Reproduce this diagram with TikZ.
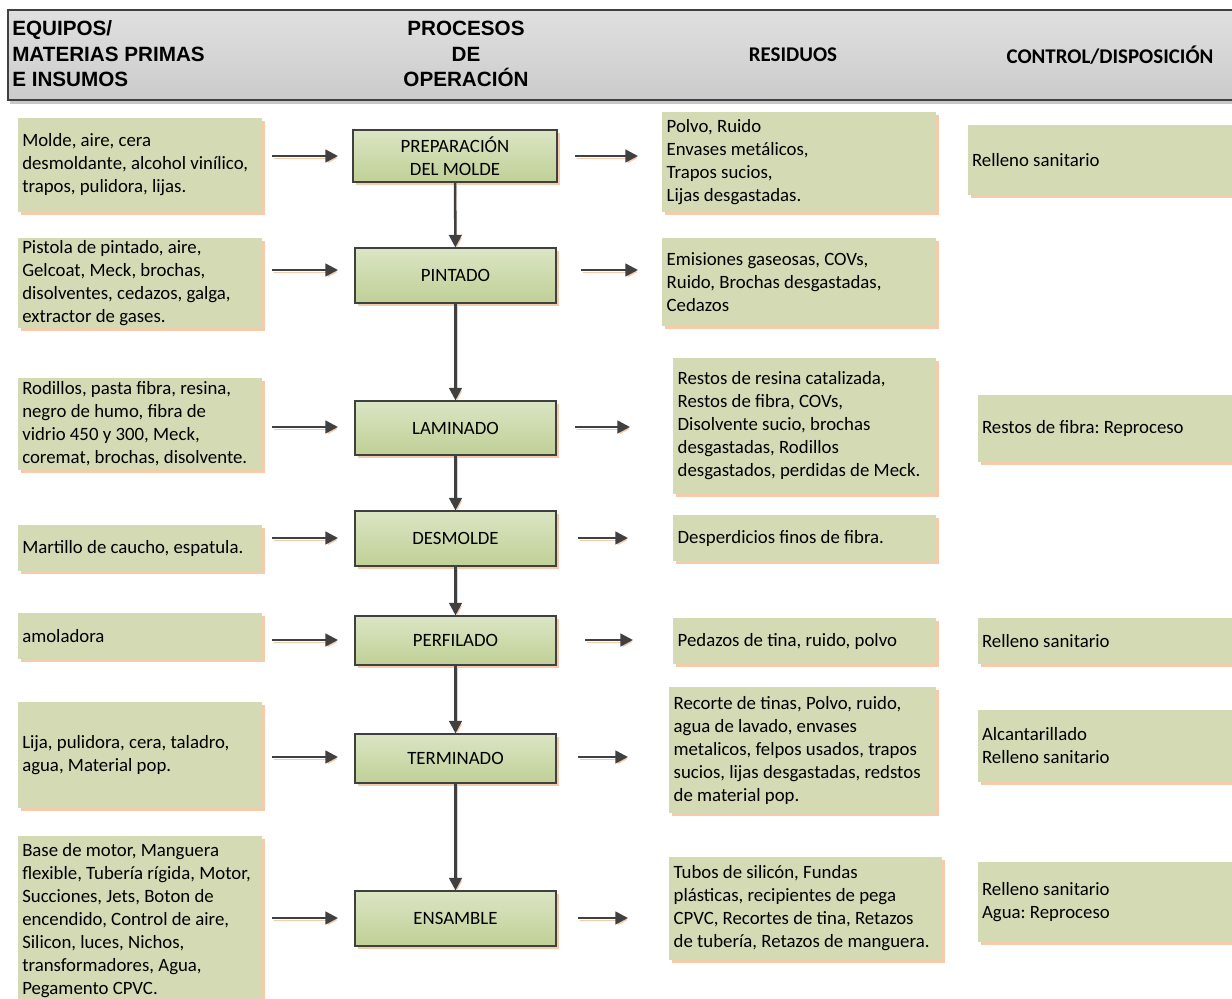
\documentclass[tikz,border=0pt]{standalone}
\usepackage{fontspec}
\setmainfont{Carlito}
\newfontfamily\arialfont{Liberation Sans}
\usetikzlibrary{arrows.meta,shadows}
\frenchspacing

\definecolor{boxgreen}{RGB}{211,218,180}
\definecolor{proctop}{RGB}{219,229,196}
\definecolor{procbot}{RGB}{192,208,150}
\definecolor{peach}{RGB}{244,204,172}
\definecolor{linegray}{RGB}{64,64,64}
\definecolor{hdrtop}{RGB}{224,224,224}
\definecolor{hdrbot}{RGB}{203,203,203}

\tikzset{
  body/.style={font=\fontsize{14.1}{17.25}\selectfont},
  greenbox/.style={rectangle, fill=boxgreen, inner sep=0pt,
    drop shadow={shadow xshift=2.25pt, shadow yshift=-2.25pt, fill=peach, opacity=1}},
  boxtext/.style={body, align=left, anchor=west, inner sep=0pt},
  procbox/.style={body, rectangle, draw=linegray, line width=0.8pt,
    top color=proctop, bottom color=procbot, align=center, inner sep=0pt,
    drop shadow={shadow xshift=2.25pt, shadow yshift=-2.25pt, fill=peach, opacity=1}},
  flow/.style={draw=linegray, line width=1.9pt, -{Triangle[length=9.5pt,width=9.5pt]},
    preaction={draw=peach, transform canvas={xshift=1.2pt, yshift=-1.5pt}}},
  hdrbar/.style={rectangle, draw=linegray, line width=0.8pt, top color=hdrtop, bottom color=hdrbot,
    drop shadow={shadow xshift=1.5pt, shadow yshift=-3pt, fill=black!22, opacity=1}},
  hdrarial/.style={font=\arialfont\bfseries\fontsize{15.5}{19.1}\selectfont, inner sep=0pt},
  hdrcal/.style={font=\bfseries\fontsize{15.7}{19}\selectfont, inner sep=0pt}
}

% box with left-aligned text: name, x1, y1, x2, y2, padding, text
\newcommand\greenbox[7]{%
  \pgfmathsetmacro\bw{(#4-#2)*0.75}%
  \pgfmathsetmacro\bh{(#5-#3)*0.75}%
  \node[greenbox, minimum width=\bw pt, minimum height=\bh pt] (#1) at ({(#2+#4)/2},{(#3+#5)/2}) {};
  \node[boxtext] (#1t) at ([xshift=#6]#1.west) {#7};}

% process box: name, x1, y1, x2, y2, text
\newcommand\procstep[6]{%
  \pgfmathsetmacro\bw{(#4-#2)*0.75}%
  \pgfmathsetmacro\bh{(#5-#3)*0.75}%
  \node[procbox, minimum width=\bw pt, minimum height=\bh pt] (#1) at ({(#2+#4)/2},{(#3+#5)/2}) {#6};}

\begin{document}
\begin{tikzpicture}[x=0.75pt, y=-0.75pt]
\useasboundingbox[fill=white] (0,0) rectangle (1232,999);

% column headings
\node[hdrbar, minimum width=924pt, minimum height=67.5pt] (hdr) at (624,55) {};
\node[hdrarial, align=left, anchor=west] (hin) at (12,54) {EQUIPOS/\\MATERIAS PRIMAS\\E INSUMOS};
\node[hdrarial, align=center] (hproc) at (466,54) {PROCESOS\\DE\\OPERACIÓN};
\node[hdrcal] (hres) at (793,55) {RESIDUOS};
\node[hdrcal] (hctl) at (1110,55) {CONTROL/DISPOSICIÓN};

% inputs
\greenbox{in1}{18}{118}{262}{212}{3.2pt}{Molde, aire, cera\\desmoldante, alcohol vinílico,\\trapos, pulidora, lijas.}
\greenbox{in2}{18}{238}{262}{328}{3.2pt}{Pistola de pintado, aire,\\Gelcoat, Meck, brochas,\\disolventes, cedazos, galga,\\extractor de gases.}
\greenbox{in3}{18}{378}{262}{470}{3.2pt}{Rodillos, pasta fibra, resina,\\negro de humo, fibra de\\vidrio 450 y 300, Meck,\\coremat, brochas, disolvente.}
\greenbox{in4}{18}{525}{262}{571}{3.2pt}{Martillo de caucho, espatula.}
\greenbox{in5}{18}{613}{262}{659}{3.2pt}{amoladora}
\greenbox{in6}{18}{702}{262}{808}{3.2pt}{Lija, pulidora, cera, taladro,\\agua, Material pop.}
\greenbox{in7}{18}{836}{262}{1006}{3.2pt}{Base de motor, Manguera\\flexible, Tubería rígida, Motor,\\Succiones, Jets, Boton de\\encendido, Control de aire,\\Silicon, luces, Nichos,\\transformadores, Agua,\\Pegamento CPVC.}

% process steps
\procstep{p1}{353}{130}{557}{182}{PREPARACIÓN\\DEL MOLDE}
\procstep{p2}{355}{248}{556}{303}{PINTADO}
\procstep{p3}{355}{401}{556}{455}{LAMINADO}
\procstep{p4}{355}{511}{556}{566}{DESMOLDE}
\procstep{p5}{355}{616}{556}{665}{PERFILADO}
\procstep{p6}{355}{734}{556}{783}{TERMINADO}
\procstep{p7}{355}{891}{556}{946}{ENSAMBLE}

% residues
\greenbox{re1}{662}{112}{936}{212}{3.5pt}{Polvo, Ruido\\Envases metálicos,\\Trapos sucios,\\Lijas desgastadas.}
\greenbox{re2}{662}{238}{936}{326}{3.5pt}{Emisiones gaseosas, COVs,\\Ruido, Brochas desgastadas,\\Cedazos}
\greenbox{re3}{673}{358}{936}{494}{3.5pt}{Restos de resina catalizada,\\Restos de fibra, COVs,\\Disolvente sucio, brochas\\desgastadas, Rodillos\\desgastados, perdidas de Meck.}
\greenbox{re4}{673}{515}{936}{561}{3.5pt}{Desperdicios finos de fibra.}
\greenbox{re5}{673}{618}{936}{664}{3.5pt}{Pedazos de tina, ruido, polvo}
\greenbox{re6}{669}{687}{936}{813}{3.5pt}{Recorte de tinas, Polvo, ruido,\\agua de lavado, envases\\metalicos, felpos usados, trapos\\sucios, lijas desgastadas, redstos\\de material pop.}
\greenbox{re7}{669}{857}{942}{960}{3.5pt}{Tubos de silicón, Fundas\\plásticas, recipientes de pega\\CPVC, Recortes de tina, Retazos\\de tubería, Retazos de manguera.}

% control / disposal
\greenbox{co1}{968}{125}{1240}{195}{3pt}{Relleno sanitario}
\greenbox{co3}{978}{395}{1240}{462}{3pt}{Restos de fibra: Reproceso}
\greenbox{co5}{978}{618}{1240}{664}{3pt}{Relleno sanitario}
\greenbox{co6}{978}{710}{1240}{782}{3pt}{Alcantarillado\\Relleno sanitario}
\greenbox{co7}{978}{862}{1240}{942}{3pt}{Relleno sanitario\\Agua: Reproceso}

% main flow
\draw[flow] (p1) -- (p2);
\draw[flow] (p2) -- (p3);
\draw[flow] (p3) -- (p4);
\draw[flow] (p4) -- (p5);
\draw[flow] (p5) -- (p6);
\draw[flow] (p6) -- (p7);

% input and residue arrows
\foreach \n/\y/\ra/\rb in {1/156/575/638, 2/270/581/638, 3/427/575/630, 4/538/578/628,
                           5/640/585/633, 6/757/578/628, 7/918/578/628}{
  \coordinate (ia\n) at (272,\y);
  \coordinate (ib\n) at (338,\y);
  \coordinate (oa\n) at (\ra,\y);
  \coordinate (ob\n) at (\rb,\y);
  \draw[flow] (ia\n) -- (ib\n);
  \draw[flow] (oa\n) -- (ob\n);
}
\end{tikzpicture}
\end{document}
